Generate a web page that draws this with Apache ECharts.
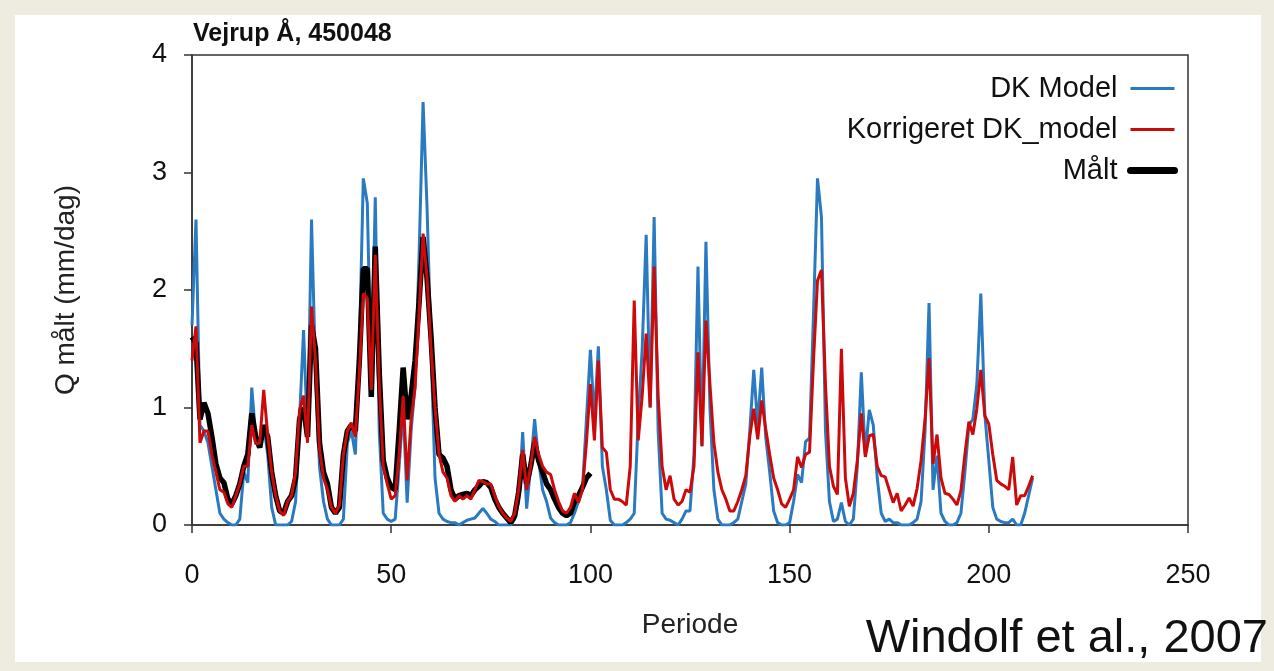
<!DOCTYPE html>
<html lang="en">
<head>
<meta charset="UTF-8">
<title>Vejrup Å, 450048</title>
<script src="https://cdn.jsdelivr.net/npm/echarts@6/dist/echarts.min.js"></script>
<style>
  html, body { margin: 0; padding: 0; background: #eeebe1; }
  #main { width: 1274px; height: 671px; }
</style>
</head>
<body>
<div id="main"></div>
<script>
// values per period (0, 1, 2, ...)
const dkModel = [
  1.7, 2.6, 0.85, 0.8, 0.7, 0.5, 0.3, 0.1, 0.05, 0.02,
  0.0, 0.0, 0.05, 0.45, 0.36, 1.17, 0.75, 0.7, 0.85, 0.6,
  0.15, 0.0, 0.0, 0.0, 0.0, 0.03, 0.2, 0.9, 1.66, 0.75,
  2.6, 1.3, 0.5, 0.2, 0.05, 0.0, 0.0, 0.0, 0.05, 0.7,
  0.8, 0.6, 1.5, 2.95, 2.74, 1.2, 2.79, 0.8, 0.1, 0.05,
  0.03, 0.05, 0.5, 1.0, 0.19, 0.8, 1.2, 2.3, 3.6, 2.7,
  1.5, 0.4, 0.1, 0.05, 0.03, 0.02, 0.02, 0.0, 0.02, 0.04,
  0.05, 0.06, 0.1, 0.14, 0.1, 0.05, 0.03, 0.0, 0.0, 0.0,
  0.0, 0.05, 0.2, 0.79, 0.14, 0.5, 0.9, 0.55, 0.3, 0.2,
  0.06, 0.02, 0.0, 0.0, 0.0, 0.02, 0.1, 0.2, 0.3, 0.9,
  1.49, 0.9, 1.52, 0.5, 0.3, 0.04, 0.0, 0.0, 0.0, 0.02,
  0.05, 0.1, 0.9, 1.5, 2.47, 1.0, 2.62, 0.8, 0.1, 0.05,
  0.04, 0.02, 0.0, 0.05, 0.12, 0.12, 0.6, 2.2, 0.67, 2.41,
  1.0, 0.3, 0.05, 0.0, 0.0, 0.0, 0.02, 0.05, 0.2, 0.35,
  0.8, 1.32, 0.85, 1.34, 0.75, 0.45, 0.12, 0.02, 0.0, 0.0,
  0.02, 0.2, 0.43, 0.36, 0.71, 0.74, 1.8, 2.95, 2.62, 0.8,
  0.2, 0.03, 0.05, 0.19, 0.03, 0.0, 0.05, 0.5, 1.3, 0.6,
  0.98, 0.85, 0.4, 0.1, 0.03, 0.05, 0.02, 0.02, 0.0, 0.0,
  0.0, 0.02, 0.05, 0.2, 0.8, 1.89, 0.3, 0.59, 0.1, 0.03,
  0.0, 0.0, 0.02, 0.1, 0.45, 0.85, 0.9, 1.2, 1.97, 0.94,
  0.55, 0.15, 0.05, 0.03, 0.02, 0.02, 0.05, 0.0, 0.0, 0.1,
  0.25, 0.4
];

const korrigeret = [
  1.4, 1.69, 0.7, 0.8, 0.8, 0.6, 0.45, 0.3, 0.28, 0.18,
  0.15, 0.25, 0.35, 0.5, 0.5, 0.85, 0.69, 0.7, 1.15, 0.77,
  0.45, 0.25, 0.12, 0.08, 0.2, 0.25, 0.45, 0.98, 1.1, 0.7,
  1.86, 1.4, 0.65, 0.4, 0.3, 0.15, 0.1, 0.17, 0.6, 0.8,
  0.87, 0.75, 1.3, 1.97, 1.93, 1.15, 2.3, 1.2, 0.5, 0.35,
  0.22, 0.25, 0.6, 1.1, 0.38, 0.9, 1.17, 1.8, 2.48, 2.1,
  1.5, 1.0, 0.6, 0.45, 0.4, 0.25, 0.2, 0.25, 0.22, 0.25,
  0.22, 0.3, 0.38, 0.37, 0.35, 0.35, 0.25, 0.16, 0.1, 0.06,
  0.03, 0.1, 0.3, 0.64, 0.3, 0.5, 0.75, 0.6, 0.5, 0.45,
  0.43, 0.3, 0.2, 0.12, 0.1, 0.15, 0.27, 0.19, 0.3, 0.7,
  1.2, 0.72, 1.4, 0.66, 0.62, 0.3, 0.22, 0.22, 0.2, 0.17,
  0.5, 1.91, 0.72, 1.1, 1.63, 1.0, 2.2, 1.1, 0.5, 0.3,
  0.42, 0.22, 0.17, 0.2, 0.3, 0.28, 0.5, 1.47, 0.67, 1.74,
  1.2, 0.7, 0.45, 0.3, 0.22, 0.12, 0.12, 0.2, 0.3, 0.42,
  0.75, 0.99, 0.73, 1.06, 0.82, 0.6, 0.4, 0.3, 0.18, 0.15,
  0.22, 0.3, 0.58, 0.49, 0.6, 0.62, 1.4, 2.08, 2.17, 1.2,
  0.5, 0.33, 0.26, 1.5, 0.4, 0.16, 0.27, 0.55, 0.95, 0.58,
  0.76, 0.77, 0.5, 0.42, 0.41, 0.3, 0.19, 0.27, 0.12, 0.17,
  0.23, 0.16, 0.31, 0.55, 0.9, 1.42, 0.52, 0.77, 0.4, 0.27,
  0.26, 0.22, 0.17, 0.29, 0.6, 0.88, 0.77, 0.99, 1.32, 0.93,
  0.86, 0.6, 0.38, 0.35, 0.33, 0.3, 0.58, 0.17, 0.25, 0.25,
  0.33, 0.42
];

const maalt = [
  1.6, 1.55, 0.9, 1.04, 0.95, 0.75, 0.52, 0.4, 0.36, 0.22,
  0.18, 0.25, 0.35, 0.5, 0.6, 0.95, 0.75, 0.66, 0.85, 0.75,
  0.45, 0.25, 0.12, 0.1, 0.2, 0.25, 0.4, 0.9, 1.0, 0.75,
  1.7, 1.5, 0.7, 0.45, 0.35, 0.15, 0.1, 0.15, 0.6, 0.8,
  0.85, 0.8, 1.4, 2.18, 2.18, 1.09, 2.37, 1.3, 0.55, 0.4,
  0.32, 0.3, 0.8, 1.34, 0.9, 1.1, 1.4, 1.9, 2.45, 2.1,
  1.6, 1.0, 0.6, 0.57, 0.5, 0.3, 0.22, 0.25, 0.26, 0.27,
  0.25, 0.3, 0.33, 0.37, 0.36, 0.32, 0.22, 0.15, 0.1, 0.06,
  0.02, 0.08, 0.28, 0.6, 0.35, 0.5, 0.7, 0.55, 0.45, 0.35,
  0.3, 0.22, 0.15, 0.1, 0.08, 0.1, 0.2, 0.25, 0.32, 0.4,
  0.44
];

const xTicks = [0, 50, 100, 150, 200, 250];
const yTicks = [0, 1, 2, 3, 4];

const toPairs = arr => arr.map((v, i) => [i, v]);

const BLUE = '#2a7ac2';
const RED = '#cc0a0a';
const BLACK = '#000000';
const FONT = '"Liberation Sans", Arial, sans-serif';

const chart = echarts.init(document.getElementById('main'));

const option = {
  backgroundColor: '#eeebe1',
  animation: false,
  textStyle: { fontFamily: FONT },
  graphic: [
    {
      type: 'rect',
      z: -10,
      shape: { x: 15, y: 15, width: 1246, height: 647 },
      style: { fill: '#ffffff' }
    },
    {
      type: 'text',
      left: 193,
      top: 22,
      style: {
        text: 'Vejrup Å, 450048',
        font: 'bold 25px ' + FONT,
        fill: '#111'
      }
    },
    {
      type: 'text',
      right: 6,
      top: 616,
      style: {
        text: 'Windolf et al., 2007',
        font: '47px ' + FONT,
        fill: '#111'
      }
    }
  ],
  grid: {
    left: 192,
    right: 86,
    top: 55,
    bottom: 146,
    show: true,
    borderColor: '#333',
    borderWidth: 1.5,
    backgroundColor: 'transparent'
  },
  legend: {
    orient: 'vertical',
    right: 91,
    top: 69,
    align: 'right',
    itemWidth: 44,
    itemHeight: 14,
    itemGap: 12,
    itemStyle: { opacity: 0 },
    textStyle: { fontSize: 29, color: '#111', padding: [0, 8, 0, 0] },
    data: [
      { name: 'DK Model', lineStyle: { width: 3 } },
      { name: 'Korrigeret DK_model', lineStyle: { width: 3 } },
      { name: 'Målt', lineStyle: { width: 7, cap: 'round' } }
    ]
  },
  xAxis: {
    type: 'value',
    min: xTicks[0],
    max: xTicks[xTicks.length - 1],
    interval: 50,
    name: 'Periode',
    nameLocation: 'middle',
    nameGap: 86,
    nameTextStyle: { fontSize: 28, color: '#222' },
    axisLine: { lineStyle: { color: '#333', width: 1.5 } },
    axisTick: { length: 8, lineStyle: { color: '#333', width: 1.5 } },
    axisLabel: { fontSize: 27, color: '#111', margin: 37 },
    splitLine: { show: false }
  },
  yAxis: {
    type: 'value',
    min: yTicks[0],
    max: yTicks[yTicks.length - 1],
    interval: 1,
    name: 'Q målt (mm/dag)',
    nameLocation: 'middle',
    nameGap: 112,
    nameTextStyle: { fontSize: 28, color: '#222' },
    axisLine: { lineStyle: { color: '#333', width: 1.5 } },
    axisTick: { length: 8, lineStyle: { color: '#333', width: 1.5 } },
    axisLabel: { fontSize: 27, color: '#111', margin: 25 },
    splitLine: { show: false }
  },
  series: [
    {
      name: 'DK Model',
      type: 'line',
      symbol: 'none',
      z: 1,
      lineStyle: { color: BLUE, width: 3 },
      itemStyle: { color: BLUE },
      data: toPairs(dkModel)
    },
    {
      name: 'Korrigeret DK_model',
      type: 'line',
      symbol: 'none',
      z: 3,
      lineStyle: { color: RED, width: 3 },
      itemStyle: { color: RED },
      data: toPairs(korrigeret)
    },
    {
      name: 'Målt',
      type: 'line',
      symbol: 'none',
      z: 2,
      lineStyle: { color: BLACK, width: 5.5 },
      itemStyle: { color: BLACK },
      data: toPairs(maalt)
    }
  ]
};

chart.setOption(option);
</script>
</body>
</html>
